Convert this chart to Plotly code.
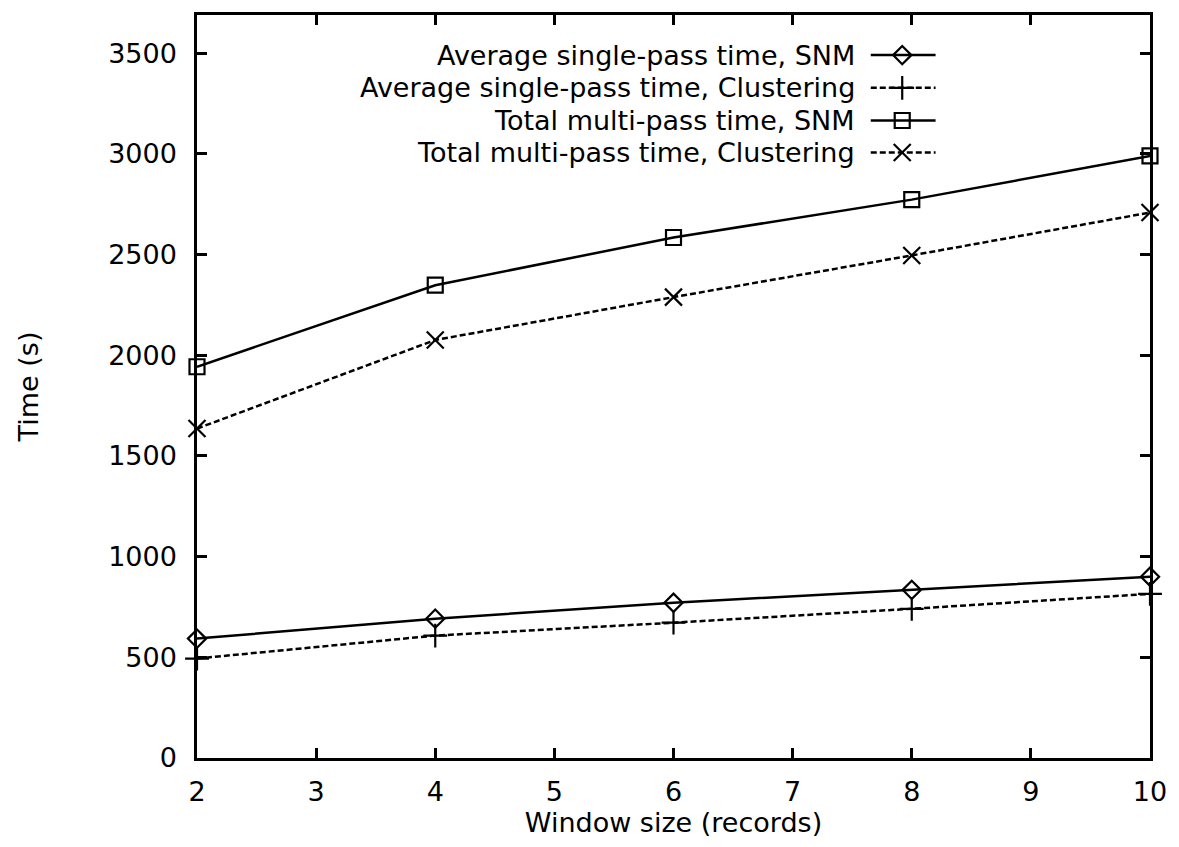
import plotly.graph_objects as go

window_sizes = [2, 4, 6, 8, 10]
avg_single_snm = [593, 692, 771, 835, 900]
avg_single_clustering = [494, 608, 672, 741, 815]
total_multi_snm = [1943, 2348, 2585, 2773, 2990]
total_multi_clustering = [1636, 2076, 2289, 2496, 2709]

series_names = [
    "Average single-pass time, SNM",
    "Average single-pass time, Clustering",
    "Total multi-pass time, SNM",
    "Total multi-pass time, Clustering",
]
series_values = [avg_single_snm, avg_single_clustering, total_multi_snm, total_multi_clustering]
series_symbols = ["diamond-open", "cross-thin-open", "square-open", "x-thin-open"]
series_sizes = [14, 17, 15, 17]
series_dash = ["solid", "6px,3px", "solid", "6px,3px"]

y_ticks = [0, 500, 1000, 1500, 2000, 2500, 3000, 3500]
x_ticks = [2, 3, 4, 5, 6, 7, 8, 9, 10]

FONT = "DejaVu Sans, Liberation Sans, Arial, sans-serif"
FS = 27
fig = go.Figure()

for name, vals, sym, sz, dash in zip(series_names, series_values, series_symbols, series_sizes, series_dash):
    fig.add_trace(go.Scatter(
        x=window_sizes, y=vals, mode="lines+markers", name=name,
        line=dict(color="black", width=2.5, dash=dash),
        marker=dict(symbol=sym, size=sz, color="black", line=dict(color="black", width=2.2)),
        showlegend=False, cliponaxis=False,
    ))

# custom legend (text right-aligned, key on the right) on an overlay axis
legend_rows = [0.946, 0.902, 0.858, 0.815]
for name, sym, sz, dash, ry in zip(series_names, series_symbols, series_sizes, series_dash, legend_rows):
    fig.add_trace(go.Scatter(
        x=[0.707, 0.775], y=[ry, ry], xaxis="x2", yaxis="y2", mode="lines",
        line=dict(color="black", width=2.5, dash=dash), showlegend=False, hoverinfo="skip",
    ))
    fig.add_trace(go.Scatter(
        x=[0.740], y=[ry], xaxis="x2", yaxis="y2", mode="markers",
        marker=dict(symbol=sym, size=sz, color="black", line=dict(color="black", width=2.2)),
        showlegend=False, hoverinfo="skip",
    ))
    fig.add_annotation(
        x=0.693, y=ry, xref="x2", yref="y2", text=name, showarrow=False,
        xanchor="right", yanchor="middle", font=dict(family=FONT, size=FS, color="black"),
    )

axis_common = dict(
    showline=True, linecolor="black", linewidth=2.5, mirror="ticks",
    ticks="inside", ticklen=10, tickwidth=2.5, tickcolor="black",
    showgrid=False, zeroline=False,
    tickfont=dict(family=FONT, size=FS, color="black"),
)

fig.update_layout(
    width=1179, height=847,
    margin=dict(l=197, r=18, t=12, b=89),
    paper_bgcolor="white", plot_bgcolor="white",
    xaxis=dict(range=[2, 10], tickvals=x_ticks,
               title=dict(text="Window size (records)", font=dict(family=FONT, size=FS, color="black"), standoff=2),
               ticklabelstandoff=8, **axis_common),
    yaxis=dict(range=[0, 3690], tickvals=y_ticks,
               title=dict(text="Time (s)", font=dict(family=FONT, size=FS, color="black"), standoff=62),
               ticklabelstandoff=12, **axis_common),
    xaxis2=dict(overlaying="x", range=[0, 1], visible=False, fixedrange=True),
    yaxis2=dict(overlaying="y", range=[0, 1], visible=False, fixedrange=True),
)

fig.write_html("out.html")
